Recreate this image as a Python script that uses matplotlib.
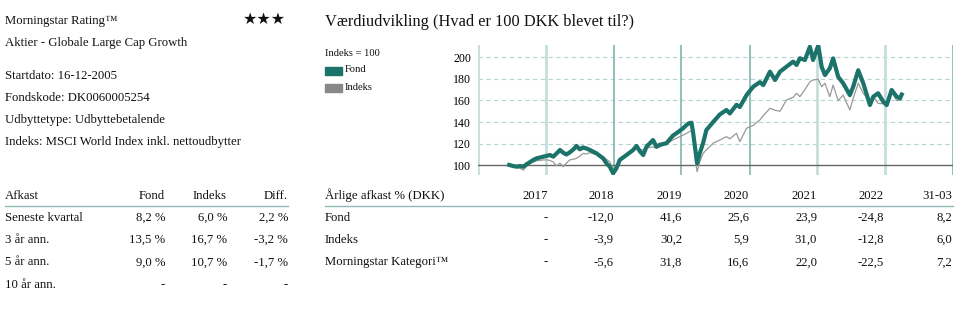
import matplotlib
matplotlib.use("Agg")
import matplotlib.pyplot as plt
import pandas as pd

# ---------------- data ----------------
dates = ["2017-06-18","2017-07-09","2017-07-28","2017-08-15","2017-09-02","2017-09-20","2017-10-08","2017-10-26",
         "2017-11-13","2017-12-01","2017-12-19","2018-01-05","2018-01-23","2018-02-10","2018-02-28","2018-03-18",
         "2018-04-04","2018-04-22","2018-05-10","2018-05-28","2018-06-15","2018-07-03","2018-07-20","2018-08-08",
         "2018-08-26","2018-10-01","2018-11-05","2018-11-23","2018-12-11","2018-12-29","2019-01-16","2019-02-03",
         "2019-03-11","2019-04-16","2019-05-04","2019-05-22","2019-06-09","2019-06-27","2019-08-01","2019-08-19",
         "2019-09-06","2019-10-12","2019-11-16","2019-12-04","2020-01-10","2020-01-28","2020-02-11","2020-02-24",
         "2020-03-04","2020-03-18","2020-03-25","2020-04-08","2020-04-26","2020-05-14","2020-06-19","2020-07-25",
         "2020-08-30","2020-09-17","2020-10-23","2020-11-10","2020-12-16","2021-01-21","2021-02-26","2021-03-16",
         "2021-04-21","2021-05-18","2021-06-14","2021-07-19","2021-08-24","2021-09-11","2021-09-29","2021-10-26",
         "2021-11-22","2021-12-09","2022-01-06","2022-01-24","2022-02-11","2022-03-09","2022-03-27","2022-04-23",
         "2022-05-20","2022-06-25","2022-07-13","2022-08-09","2022-09-05","2022-10-11","2022-10-29","2022-11-24",
         "2022-12-21","2023-01-09","2023-02-05","2023-03-04","2023-03-22","2023-03-31"]

fond = [100.3, 99.3, 98.7, 99.3, 98.7, 101.0, 103.0, 105.0,
        106.5, 107.2, 108.0, 108.7, 109.5, 108.0, 111.0, 114.2,
        111.7, 110.0, 112.0, 114.5, 117.9, 114.8, 116.5, 115.5,
        114.2, 111.0, 106.5, 101.9, 98.7, 92.6, 97.2, 105.0,
        109.5, 114.2, 117.9, 113.0, 109.5, 117.3, 123.4, 117.3,
        119.0, 120.4, 127.5, 129.6, 134.3, 137.3, 139.0, 139.4,
        129.6, 111.0, 101.9, 111.0, 120.4, 132.7, 140.0, 147.0,
        151.2, 148.0, 156.0, 154.0, 165.0, 172.8, 177.0, 174.3,
        186.7, 179.0, 186.7, 191.3, 196.0, 192.9, 199.1, 197.5,
        209.8, 197.5, 211.0, 191.3, 183.6, 189.8, 199.0, 182.0,
        176.0, 165.0, 172.8, 188.0, 176.0, 155.8, 163.5, 166.7,
        159.1, 155.8, 169.7, 163.5, 162.0, 165.5]

indeks = [100.3, 99.0, 98.0, 97.2, 95.6, 99.0, 101.9, 103.0,
          104.3, 104.5, 105.0, 105.0, 104.5, 103.0, 99.4, 102.0,
          98.7, 102.0, 105.0, 105.5, 106.5, 108.5, 111.0, 110.5,
          111.7, 110.0, 108.0, 105.5, 103.4, 95.6, 100.0, 105.0,
          110.0, 114.0, 117.3, 114.5, 114.2, 116.0, 117.0, 115.7,
          117.0, 120.0, 123.4, 125.0, 128.0, 129.6, 131.0, 132.0,
          125.0, 101.9, 94.0, 103.0, 111.0, 114.2, 120.4, 123.4,
          126.5, 124.5, 129.6, 121.9, 134.3, 137.0, 142.0, 146.0,
          152.8, 151.0, 150.0, 160.5, 163.0, 166.7, 163.6, 170.0,
          177.4, 179.0, 179.6, 172.8, 175.9, 163.5, 174.3, 160.0,
          165.0, 151.2, 162.0, 176.0, 166.7, 159.0, 163.5, 157.4,
          157.0, 157.4, 168.0, 160.0, 160.5, 165.0]

yticks = [100, 120, 140, 160, 180, 200]
year_lines = ["2017-01-01","2018-01-01","2019-01-01","2020-01-01","2021-01-01","2022-01-01","2023-01-01","2024-01-01"]

afkast_rows = ["Seneste kvartal", "3 år ann.", "5 år ann.", "10 år ann."]
afkast_fond = ["8,2 %", "13,5 %", "9,0 %", "-"]
afkast_indeks = ["6,0 %", "16,7 %", "10,7 %", "-"]
afkast_diff = ["2,2 %", "-3,2 %", "-1,7 %", "-"]

aar_cols = ["2017", "2018", "2019", "2020", "2021", "2022", "31-03"]
aar_rows = ["Fond", "Indeks", "Morningstar Kategori™"]
aar_fond = ["-", "-12,0", "41,6", "25,6", "23,9", "-24,8", "8,2"]
aar_indeks = ["-", "-3,9", "30,2", "5,9", "31,0", "-12,8", "6,0"]
aar_kat = ["-", "-5,6", "31,8", "16,6", "22,0", "-22,5", "7,2"]

info_lines = ["Startdato: 16-12-2005", "Fondskode: DK0060005254",
              "Udbyttetype: Udbyttebetalende", "Indeks: MSCI World Index inkl. nettoudbytter"]

# ---------------- styling ----------------
W, H = 964, 311
SERIF = ["Liberation Serif", "DejaVu Serif"]
plt.rcParams['font.family'] = SERIF
FS = 9.2
TEAL = "#1b7369"
LINEC = "#8fbab5"

fig = plt.figure(figsize=(W/100, H/100), dpi=100)

def tb(x, y, s, ha="left", size=FS, **kw):
    # y is the text baseline in pixels from top
    fig.text(x / W, 1 - y / H, s, ha=ha, va="baseline", fontsize=size, color="#111111", **kw)

def tc(x, y, s, ha="left", size=FS, **kw):
    fig.text(x / W, 1 - y / H, s, ha=ha, va="center", fontsize=size, color="#111111", **kw)

def hline(x0, x1, y, color=LINEC, lw=1.0):
    fig.add_artist(plt.Line2D([x0 / W, x1 / W], [1 - y / H, 1 - y / H], color=color, lw=lw))

# Left info block
tb(5, 24, "Morningstar Rating™")
fig.text(243 / W, 1 - 19 / H, "★★★", ha="left", va="center", fontsize=11.5,
         family=["DejaVu Sans"], color="#111111")
tb(5, 46, "Aktier - Globale Large Cap Growth")
for i, s in enumerate(info_lines):
    tb(5, 79 + i * 22, s)

# Title
tb(325, 25.5, "Værdiudvikling (Hvad er 100 DKK blevet til?)", size=11.8)

# Legend
tc(325, 53, "Indeks = 100", size=7.6)
fig.add_artist(plt.Rectangle((325 / W, 1 - 75 / H), 17 / W, 8 / H, color=TEAL))
tc(345, 70, "Fond", size=7.6)
fig.add_artist(plt.Rectangle((325 / W, 1 - 92 / H), 17 / W, 8 / H, color="#888888"))
tc(345, 87, "Indeks", size=7.6)

# Chart
ax = fig.add_axes([478 / W, 1 - 175 / H, (953 - 478) / W, 130 / H])
d = pd.to_datetime(dates)
yl = pd.to_datetime(year_lines)
ax.set_xlim(yl[0], yl[-1])
ax.set_ylim(91, 211.4)
for sp in ax.spines.values():
    sp.set_visible(False)
for yv in yticks[1:]:
    ax.axhline(yv, color="#b3d6d1", lw=0.8, ls=(0, (4, 3)), zorder=1)
ax.axhline(100, color="#666666", lw=1.0, zorder=2)
light = [True, True, False, False, False, True, True, False]
for x, lt in zip(yl, light):
    if lt:
        ax.axvline(x, color="#c5dfdb", lw=2.0, zorder=1)
    else:
        ax.axvline(x, color="#7fb5ae", lw=1.2, zorder=1)
ax.plot(d, indeks, color="#999999", lw=0.9, zorder=3)
ax.plot(d, fond, color=TEAL, lw=3.0, zorder=4, solid_joinstyle="round")
ax.set_yticks(yticks)
ax.set_yticklabels([str(v) for v in yticks], fontsize=8.6)
ax.tick_params(axis="y", length=0, pad=5)
ax.set_xticks([])

# Bottom-left table
tb(5, 199, "Afkast")
tb(165, 199, "Fond", ha="right")
tb(227, 199, "Indeks", ha="right")
tb(288, 199, "Diff.", ha="right")
hline(5, 288, 205.5)
for i, r in enumerate(afkast_rows):
    y = 221 + i * 22.2
    tb(5, y, r)
    tb(165, y, afkast_fond[i], ha="right")
    tb(227, y, afkast_indeks[i], ha="right")
    tb(288, y, afkast_diff[i], ha="right")

# Bottom-right table
tb(325, 199, "Årlige afkast % (DKK)")
col_r = [548, 614, 682, 749, 817, 884, 952]
for c, xr in zip(aar_cols, col_r):
    tb(xr, 199, c, ha="right")
hline(325, 953, 205.5)
for i, (r, vals) in enumerate(zip(aar_rows, [aar_fond, aar_indeks, aar_kat])):
    y = 221 + i * 22.2
    tb(325, y, r)
    for v, xr in zip(vals, col_r):
        tb(xr, y, v, ha="right")

fig.savefig("out.png", dpi=100, facecolor="white")
